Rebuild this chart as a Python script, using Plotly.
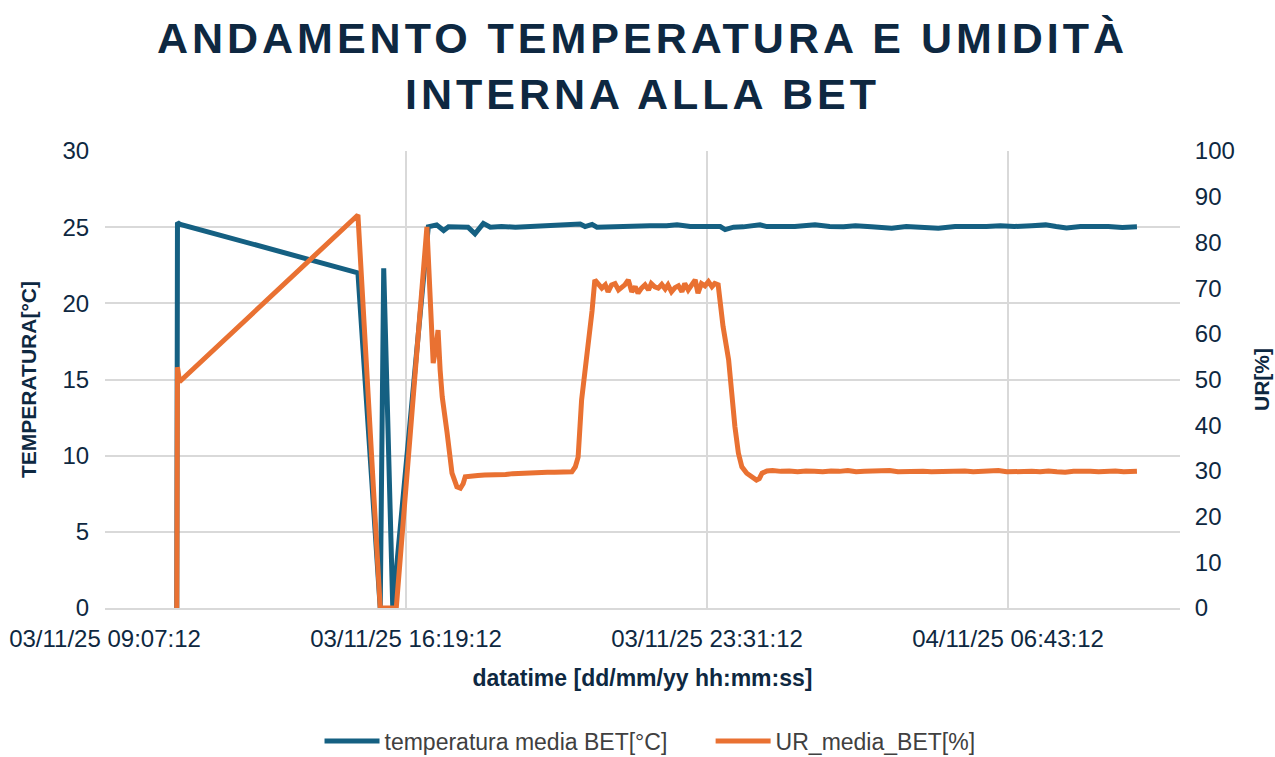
import pandas as pd
import plotly.graph_objects as go

# ---- data (minutes after 03/11/25 09:07:12) ----
minuti_temp = [103, 104, 107, 363, 395, 400, 413, 462, 464, 476,
               486, 493, 507, 521, 531, 538, 543, 553, 569, 589,
               608, 627, 646, 665, 682, 689, 699, 706, 725, 744,
               763, 782, 806, 821, 840, 864, 883, 890, 902, 916,
               931, 940, 950, 970, 990, 1019, 1040, 1060, 1077, 1100,
               1129, 1150, 1177, 1196, 1220, 1245, 1265, 1285, 1305, 1330,
               1350, 1365, 1380, 1400, 1420, 1440, 1460, 1481]
temperatura = [0, 25.3, 25.2, 22.0, 0, 22.3, 0, 24.9, 25.03, 25.15,
               24.78, 25.03, 25.05, 25.0, 24.56, 24.95, 25.25, 25.0, 25.04, 25.0,
               25.04, 25.04, 25.07, 25.09, 25.2, 25.04, 25.18, 25.0, 25.04, 25.04,
               25.07, 25.09, 25.09, 25.15, 25.04, 25.04, 25.04, 24.84, 25.0, 25.02,
               25.07, 25.15, 25.04, 25.02, 25.04, 25.15, 25.04, 25.02, 25.1, 25.02,
               24.93, 25.04, 24.93, 24.93, 25.04, 25.02, 25.04, 25.1, 25.04, 25.1,
               25.15, 25.04, 24.95, 25.04, 25.07, 25.04, 24.98, 25.02]

minuti_ur = [103, 104, 107, 363, 395, 418, 462, 466, 471, 475,
             478, 481, 484, 491, 495, 498, 502, 505, 510, 514,
             517, 525, 535, 545, 555, 565, 575, 585, 595, 605,
             615, 625, 635, 645, 655, 665, 670, 675, 679, 684,
             689, 694, 697, 699,
             703, 708, 713, 718, 722, 727, 732, 737, 741, 746,
             751, 756, 761, 765, 770, 775, 780, 784, 789, 794,
             799, 804, 808, 813, 818, 823, 828, 832, 837, 842,
             847, 851, 856, 861, 866, 871, 875, 880,
             887, 895, 900, 904, 909, 914, 921, 928, 935, 939,
             943, 950,
             958, 970, 982, 994, 1006, 1018, 1030, 1042, 1054, 1066,
             1078, 1090, 1102, 1114, 1126, 1138, 1150, 1162, 1174, 1186,
             1198, 1210, 1222, 1234, 1246, 1258, 1270, 1282, 1294, 1306,
             1318, 1330, 1342, 1354, 1366, 1378, 1390, 1402, 1414, 1426,
             1438, 1450, 1462, 1474, 1481]
ur = [0, 52.7, 49.5, 86.0, 0, 0, 83.4, 70.0, 53.6, 57.0,
      60.8, 52.0, 46.2, 38.3, 33.5, 29.5, 27.8, 26.5, 26.2, 27.2,
      28.7, 28.9, 29.0, 29.1, 29.1, 29.3, 29.2, 29.4, 29.5, 29.4,
      29.7, 29.6, 29.7, 29.7, 29.8, 29.8, 29.8, 30.9, 33.0, 45.5,
      52.0, 58.6, 61.0, 65.0,
      71.8, 71.0, 70.0, 70.7, 69.2, 70.7, 71.0, 69.6, 70.0, 70.7,
      71.8, 69.2, 70.3, 68.9, 70.0, 70.7, 69.6, 71.0, 70.3, 70.0,
      70.8, 69.8, 70.7, 69.2, 70.1, 70.5, 69.2, 71.0, 69.6, 70.7,
      71.8, 68.9, 71.0, 70.5, 71.4, 70.3, 71.0, 70.7,
      61.6, 54.3, 45.5, 39.7, 33.9, 30.9, 29.5, 28.6, 28.0, 28.3,
      29.5, 30.0,
      30.1, 29.9, 30.0, 29.8, 30.0, 29.9, 29.8, 30.0, 29.9, 30.1,
      29.8, 29.9, 30.0, 29.9, 30.1, 29.8, 29.9, 29.8, 29.9, 29.8,
      29.9, 29.8, 29.9, 30.0, 29.8, 29.9, 30.0, 30.1, 29.8, 29.9,
      29.8, 29.9, 29.8, 30.0, 29.8, 29.7, 29.9, 30.0, 29.9, 29.8,
      29.9, 30.0, 29.8, 29.9, 29.9]

inizio = pd.Timestamp("2025-11-03 09:07:12")
fine = pd.Timestamp("2025-11-04 10:50:00")
t_temp = inizio + pd.to_timedelta(minuti_temp, unit="min")
t_ur = inizio + pd.to_timedelta(minuti_ur, unit="min")

BLU = "#156082"
ARANCIO = "#E97132"
NAVY = "#0E2841"
GRID = "#D9D9D9"
FONT = "Liberation Sans, Arial, sans-serif"
NBSP = "\u00a0"

fig = go.Figure()
fig.add_trace(go.Scatter(x=t_temp, y=temperatura, mode="lines",
                         name="temperatura media BET[°C]" + NBSP * 6,
                         line=dict(color=BLU, width=5, shape="linear"),
                         yaxis="y"))
fig.add_trace(go.Scatter(x=t_ur, y=ur, mode="lines",
                         name="UR_media_BET[%]",
                         line=dict(color=ARANCIO, width=5, shape="linear"),
                         yaxis="y2"))

fig.update_layout(
    width=1275, height=757,
    paper_bgcolor="white", plot_bgcolor="white",
    margin=dict(l=105, r=95, t=151, b=149, autoexpand=False),
    title=dict(
        text='<span style="letter-spacing:4px">ANDAMENTO TEMPERATURA E UMIDITÀ<br>INTERNA ALLA BET</span>',
        font=dict(family=FONT, size=43, color=NAVY, weight="bold"),
        x=0.5, xanchor="center", xref="paper",
        y=0.930, yanchor="top", yref="container"),
    font=dict(family=FONT, color=NAVY, size=22),
    xaxis=dict(
        type="date", range=[inizio, fine], automargin=False,
        tick0=inizio, dtick=7.2 * 3600 * 1000,
        tickformat="%d/%m/%y %H:%M:%S",
        showgrid=True, gridcolor=GRID, gridwidth=1.5,
        showline=True, linecolor=GRID, linewidth=1.5,
        ticks="outside", ticklen=8, tickcolor="rgba(0,0,0,0)",
        tickfont=dict(size=24, color=NAVY),
        title=dict(text="<b>datatime [dd/mm/yy hh:mm:ss]</b>",
                   font=dict(size=23, color=NAVY), standoff=19),
        zeroline=False),
    yaxis=dict(
        range=[0, 30], dtick=5, automargin=False,
        showgrid=True, gridcolor=GRID, gridwidth=1.5,
        zeroline=False,
        ticks="outside", ticklen=10, tickcolor="rgba(0,0,0,0)",
        tickfont=dict(size=24, color=NAVY),
        title=dict(text="<b>TEMPERATURA[°C]</b>",
                   font=dict(size=21, color=NAVY), standoff=20)),
    yaxis2=dict(
        range=[0, 100], dtick=10, overlaying="y", side="right",
        automargin=False,
        showgrid=False, zeroline=False,
        ticks="outside", ticklen=9, tickcolor="rgba(0,0,0,0)",
        tickfont=dict(size=24, color=NAVY),
        title=dict(text="<b>UR[%]</b>",
                   font=dict(size=21, color=NAVY), standoff=20)),
    legend=dict(orientation="h", x=0.507, xanchor="center", xref="paper",
                y=0.021, yanchor="middle", yref="container",
                font=dict(size=23, color="#404040"),
                itemwidth=55, bgcolor="rgba(0,0,0,0)"),
    showlegend=True,
)

fig.write_html("out.html",
               config={"displayModeBar": False},
               post_script="document.body.style.margin='0px';")
